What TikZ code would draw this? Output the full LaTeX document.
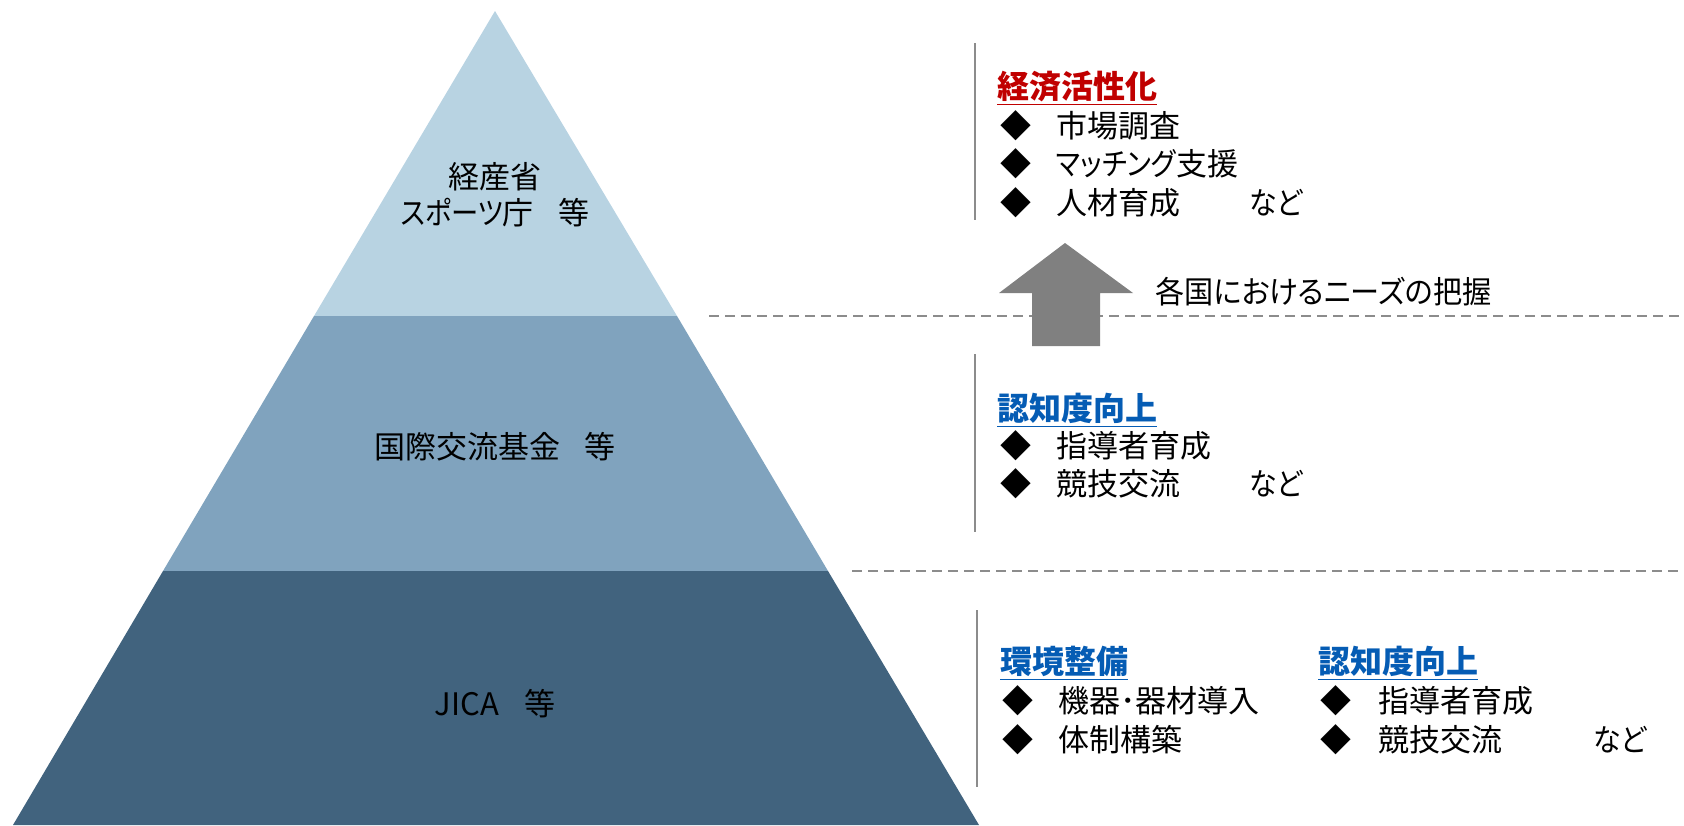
\documentclass[tikz,border=0pt]{standalone}
\usepackage{fontspec}
\setmainfont{Noto Sans CJK JP}[RawFeature=+palt]
\definecolor{ltop}{RGB}{184,211,226}
\definecolor{lmid}{RGB}{128,163,190}
\definecolor{lbot}{RGB}{65,99,126}
\definecolor{tred}{RGB}{192,0,0}
\definecolor{tblue}{RGB}{5,92,180}
\definecolor{lgray}{RGB}{140,140,140}
\definecolor{agray}{RGB}{128,128,128}
\tikzset{
  lbl/.style={inner sep=0pt, font=\fontsize{15.5pt}{19pt}\selectfont, text=black},
  item/.style={lbl, anchor=west},
  ttl/.style={inner sep=0pt, anchor=west, font=\fontsize{16pt}{19pt}\selectfont\bfseries},
  sep/.style={draw=lgray, line width=1pt, dash pattern=on 5pt off 3pt},
  vbar/.style={draw=lgray, line width=1.2pt}
}
\newcommand{\dia}{◆}
\newcommand{\ul}[1]{\underline{#1}}
\newcommand{\nk}[2][0.88]{\scalebox{#1}[1]{#2}}
\begin{document}
\begin{tikzpicture}[x=0.5pt,y=-0.5pt]
\useasboundingbox (0,0) rectangle (1684,825);
% pyramid
\fill[ltop] (495,11) -- (677,316) -- (314,316) -- cycle;
\fill[lmid] (314,316) -- (677,316) -- (828,571) -- (163,571) -- cycle;
\fill[lbot] (163,571) -- (828,571) -- (979,825) -- (13,825) -- cycle;
\node[lbl] (p1a) at (495,177) {経産省};
\node[lbl] (p1b) at (495,213) {\nk{スポーツ}庁\hspace{0.8em}等};
\node[lbl] (p2) at (495,447) {国際交流基金\hspace{0.8em}等};
\node[lbl] (p3) at (495,704) {JICA\hspace{0.8em}等};
% dashed separators
\coordinate (s1a) at (709,316); \coordinate (s1b) at (1684,316);
\coordinate (s2a) at (852,571); \coordinate (s2b) at (1684,571);
\draw[sep] (s1a) -- (s1b);
\draw[sep] (s2a) -- (s2b);
% vertical bars
\coordinate (v1a) at (975,43); \coordinate (v1b) at (975,220);
\coordinate (v2a) at (975,354); \coordinate (v2b) at (975,532);
\coordinate (v3a) at (977,610); \coordinate (v3b) at (977,787);
\draw[vbar] (v1a) -- (v1b);
\draw[vbar] (v2a) -- (v2b);
\draw[vbar] (v3a) -- (v3b);
% arrow
\fill[agray] (1065,243) -- (1133,293) -- (1100,293) -- (1100,346) -- (1032,346) -- (1032,293) -- (999,293) -- cycle;
\node[item] (need) at (1155,292) {\nk[0.94]{各国におけるニーズの把握}};
% top block
\node[ttl, text=tred] (t1) at (997,88) {\ul{経済活性化}};
\node[item] (d11) at (1000,126) {\dia};
\node[item] (i11) at (1056,126) {市場調査};
\node[item] (d12) at (1000,164) {\dia};
\node[item] (i12) at (1056,164) {\nk{マッチング}支援};
\node[item] (d13) at (1000,203) {\dia};
\node[item] (i13) at (1056,203) {人材育成};
\node[item] (n13) at (1249,203) {\nk[0.9]{など}};
% middle block
\node[ttl, text=tblue] (t2) at (997,410) {\ul{認知度向上}};
\node[item] (d21) at (1000,446) {\dia};
\node[item] (i21) at (1056,446) {指導者育成};
\node[item] (d22) at (1000,484) {\dia};
\node[item] (i22) at (1056,484) {競技交流};
\node[item] (n22) at (1249,484) {\nk[0.9]{など}};
% bottom block
\node[ttl, text=tblue] (t3) at (1000,663) {\ul{環境整備}};
\node[item] (d31) at (1002,701) {\dia};
\node[item] (i31) at (1058,701) {機器･器材導入};
\node[item] (d32) at (1002,740) {\dia};
\node[item] (i32) at (1058,740) {体制構築};
\node[ttl, text=tblue] (t4) at (1318,663) {\ul{認知度向上}};
\node[item] (d41) at (1320,701) {\dia};
\node[item] (i41) at (1378,701) {指導者育成};
\node[item] (d42) at (1320,740) {\dia};
\node[item] (i42) at (1378,740) {競技交流};
\node[item] (n42) at (1593,740) {\nk[0.9]{など}};
\end{tikzpicture}
\end{document}
